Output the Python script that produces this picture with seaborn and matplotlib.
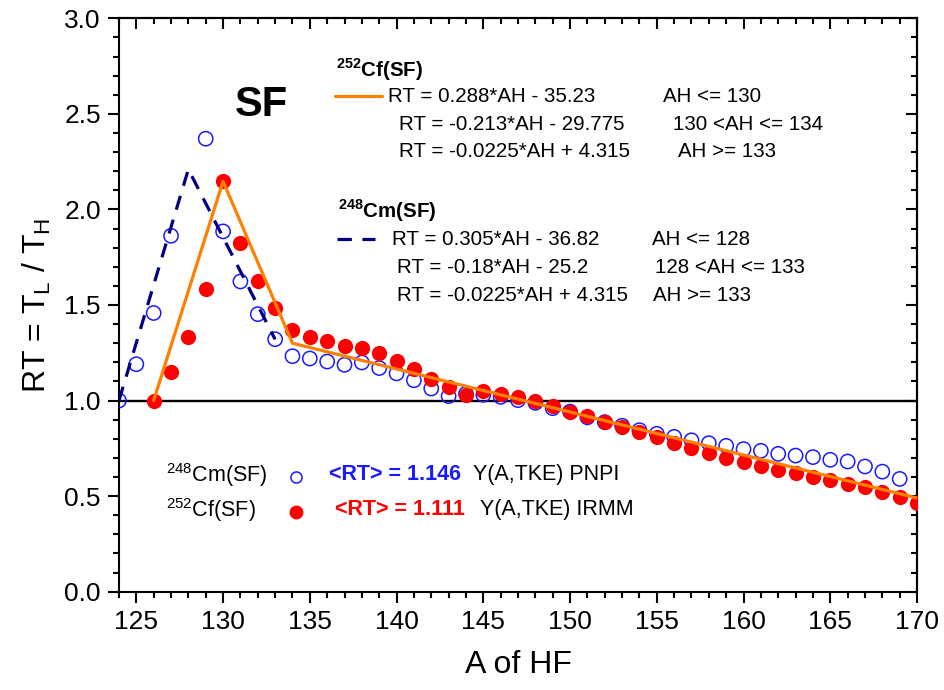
import numpy as np
import pandas as pd
import matplotlib
matplotlib.use("Agg")
import matplotlib.pyplot as plt
from matplotlib.ticker import MultipleLocator
from matplotlib.lines import Line2D
import seaborn as sns

# ratio RT = T_L / T_H vs heavy-fragment mass
a_cm = list(range(124, 170))
rt_cm = [1.00, 1.19, 1.458, 1.862, np.nan, 2.37, 1.885, 1.623, 1.452, 1.321,
         1.232, 1.220, 1.204, 1.187, 1.199, 1.170, 1.142, 1.106, 1.063, 1.023,
         1.035, 1.030, 1.019, 1.002, 0.988, 0.960, 0.942, 0.912, 0.887, 0.868,
         0.845, 0.826, 0.810, 0.792, 0.777, 0.763, 0.746, 0.737, 0.721, 0.712,
         0.704, 0.690, 0.681, 0.655, 0.628, 0.590]

a_cf = list(range(126, 171))
rt_cf = [1.00, 1.147, 1.33, 1.585, 2.147, 1.824, 1.627, 1.484, 1.367, 1.332,
         1.309, 1.286, 1.274, 1.248, 1.209, 1.163, 1.112, 1.071, 1.030, 1.052,
         1.035, 1.021, 0.999, 0.969, 0.942, 0.917, 0.890, 0.862, 0.836, 0.808,
         0.777, 0.751, 0.725, 0.698, 0.681, 0.658, 0.637, 0.620, 0.602, 0.585,
         0.564, 0.547, 0.524, 0.497, 0.463]

# piecewise linear fits
cf_fit_a = [126, 130, 134, 170]
cf_fit_rt = [1.0, 2.147, 1.30, 0.49]
cm_fit_a = [124, 128, 133]
cm_fit_rt = [1.0, 2.21, 1.32]

cm = pd.DataFrame({"A": a_cm, "RT": rt_cm})
cf = pd.DataFrame({"A": a_cf, "RT": rt_cf})

sns.set_style("ticks")
plt.rcParams["font.family"] = ["Liberation Sans", "DejaVu Sans"]
plt.rcParams["mathtext.fontset"] = "custom"
plt.rcParams["mathtext.rm"] = "Liberation Sans"
plt.rcParams["mathtext.bf"] = "Liberation Sans:bold"
for k in ["text.color", "axes.labelcolor", "xtick.color", "ytick.color",
          "axes.edgecolor"]:
    plt.rcParams[k] = "black"

ORANGE = "#ff8000"
NAVY = "#000080"
BLUE = "#1a1aff"
RED = "#ff0000"

fig = plt.figure(figsize=(9.45, 6.9), dpi=100)
ax = fig.add_axes([0.1259, 0.1425, 0.8445, 0.831])

ax.axhline(1.0, color="black", lw=1.7, zorder=1)
sns.scatterplot(data=cm, x="A", y="RT", ax=ax, marker="o", s=105,
                facecolors="none", edgecolor=BLUE, linewidth=1.1, zorder=3)
sns.scatterplot(data=cf, x="A", y="RT", ax=ax, marker="o", s=120,
                color=RED, edgecolor=RED, linewidth=0, zorder=4)
ax.plot(cm_fit_a, cm_fit_rt, color=NAVY, lw=2.3, dashes=(4.5, 3.3), zorder=5)
ax.plot(cf_fit_a, cf_fit_rt, color=ORANGE, lw=2.3, zorder=6)

ax.set_xlim(124, 170)
ax.set_ylim(0, 3.0)
ax.xaxis.set_major_locator(MultipleLocator(5))
ax.xaxis.set_minor_locator(MultipleLocator(1))
ax.yaxis.set_major_locator(MultipleLocator(0.5))
ax.yaxis.set_minor_locator(MultipleLocator(0.1))
ax.yaxis.set_major_formatter(matplotlib.ticker.FormatStrFormatter("%.1f"))
ax.tick_params(which="major", direction="out", length=8, width=1.5,
               labelsize=19, pad=5)
ax.tick_params(which="minor", direction="out", length=4.5, width=1.5)
for sp in ax.spines.values():
    sp.set_linewidth(1.5)
    sp.set_visible(True)

top = ax.secondary_xaxis("top")
top.xaxis.set_major_locator(MultipleLocator(5))
top.xaxis.set_minor_locator(MultipleLocator(1))
top.tick_params(which="major", direction="in", length=8, width=1.5, labeltop=False)
top.tick_params(which="minor", direction="in", length=4.5, width=1.5)
top.spines["top"].set_linewidth(1.5)
right = ax.secondary_yaxis("right")
right.yaxis.set_major_locator(MultipleLocator(0.5))
right.yaxis.set_minor_locator(MultipleLocator(0.1))
right.tick_params(which="major", direction="in", length=8, width=1.5, labelright=False)
right.tick_params(which="minor", direction="in", length=4.5, width=1.5)
right.spines["right"].set_linewidth(1.5)

ax.set_xlabel("A of HF", fontsize=23, labelpad=12)
ax.set_ylabel(r"RT = T$_\mathrm{L}$ / T$_\mathrm{H}$", fontsize=23, labelpad=8)

tr = ax.transAxes
fs = 14.8
ax.text(0.179, 0.849, "SF", transform=tr, fontsize=30, fontweight="bold",
        ha="center", va="center")

# 252Cf block
ax.text(0.272, 0.910, r"$^{\mathbf{252}}$Cf(SF)", transform=tr, fontsize=fs,
        fontweight="bold", va="center")
ax.add_line(Line2D([0.2707, 0.3296], [0.865, 0.865], transform=tr,
                   color=ORANGE, lw=2.3))
ax.text(0.337, 0.863, "RT = 0.288*AH - 35.23", transform=tr, fontsize=fs, va="center")
ax.text(0.682, 0.863, "AH <= 130", transform=tr, fontsize=fs, va="center")
ax.text(0.351, 0.814, "RT = -0.213*AH - 29.775", transform=tr, fontsize=fs, va="center")
ax.text(0.694, 0.814, "130 <AH <= 134", transform=tr, fontsize=fs, va="center")
ax.text(0.351, 0.767, "RT = -0.0225*AH + 4.315", transform=tr, fontsize=fs, va="center")
ax.text(0.700, 0.767, "AH >= 133", transform=tr, fontsize=fs, va="center")

# 248Cm block
ax.text(0.2744, 0.664, r"$^{\mathbf{248}}$Cm(SF)", transform=tr, fontsize=fs,
        fontweight="bold", va="center")
ax.add_line(Line2D([0.273, 0.321], [0.615, 0.615], transform=tr,
                   color=NAVY, lw=2.3, dashes=(4.5, 3.3)))
ax.text(0.342, 0.615, "RT = 0.305*AH - 36.82", transform=tr, fontsize=fs, va="center")
ax.text(0.668, 0.615, "AH <= 128", transform=tr, fontsize=fs, va="center")
ax.text(0.348, 0.566, "RT = -0.18*AH - 25.2", transform=tr, fontsize=fs, va="center")
ax.text(0.672, 0.566, "128 <AH <= 133", transform=tr, fontsize=fs, va="center")
ax.text(0.348, 0.517, "RT = -0.0225*AH + 4.315", transform=tr, fontsize=fs, va="center")
ax.text(0.669, 0.517, "AH >= 133", transform=tr, fontsize=fs, va="center")

# bottom legend
lfs = 15.5
ax.text(0.0589, 0.2035, r"$^{248}$Cm(SF)", transform=tr, fontsize=lfs, va="center")
ax.plot([0.2214], [0.2006], transform=tr, marker="o", ms=8, mfc="none",
        mec=BLUE, mew=1.1, ls="none")
ax.text(0.263, 0.2035, "<RT> = 1.146", transform=tr, fontsize=lfs,
        fontweight="bold", color=BLUE, va="center")
ax.text(0.4436, 0.2035, "Y(A,TKE) PNPI", transform=tr, fontsize=lfs, va="center")
ax.text(0.0589, 0.1425, r"$^{252}$Cf(SF)", transform=tr, fontsize=lfs, va="center")
ax.plot([0.2214], [0.139], transform=tr, marker="o", ms=9, mfc=RED,
        mec=RED, ls="none")
ax.text(0.2707, 0.1425, "<RT> = 1.111", transform=tr, fontsize=lfs,
        fontweight="bold", color=RED, va="center")
ax.text(0.4524, 0.1425, "Y(A,TKE) IRMM", transform=tr, fontsize=lfs, va="center")

fig.savefig("out.png", dpi=100)
